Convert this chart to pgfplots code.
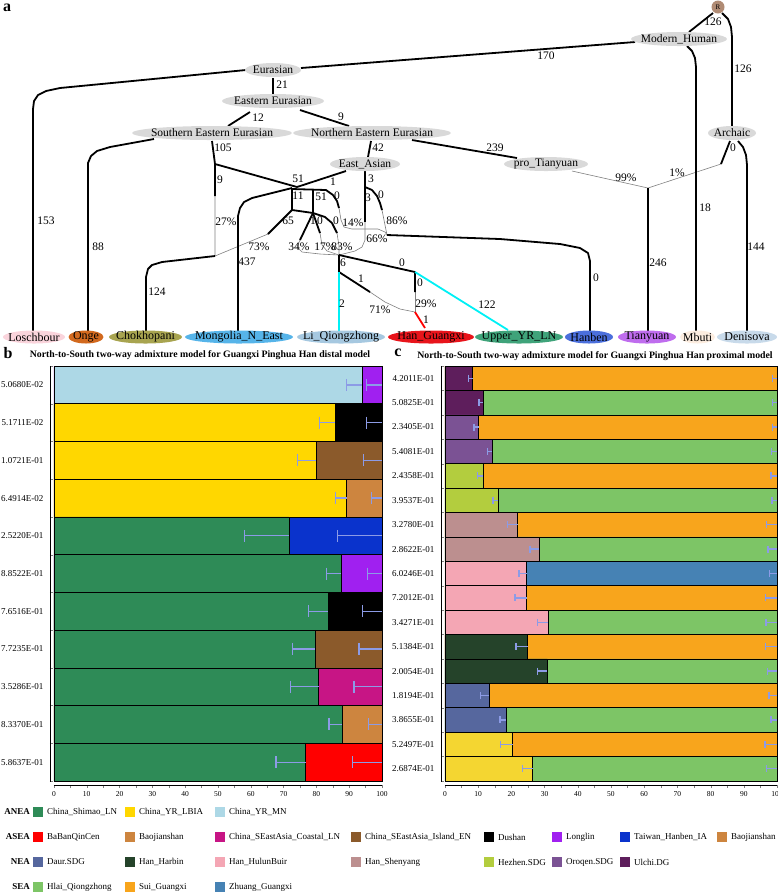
\documentclass[border=0pt]{standalone}
\usepackage{fontspec}
\setmainfont{Liberation Serif}
\usepackage{pgfplots}
\pgfplotsset{compat=1.18}
\usetikzlibrary{shapes.geometric}

\definecolor{nodegray}{HTML}{D9D9D9}
\definecolor{rootc}{HTML}{B08B74}
\definecolor{errc}{HTML}{8C9BE6}
\definecolor{cyanc}{HTML}{00F0F5}
\definecolor{cLosch}{HTML}{FAD4DC}
\definecolor{cOnge}{HTML}{D2691E}
\definecolor{cChok}{HTML}{A8A450}
\definecolor{cMong}{HTML}{56B4E9}
\definecolor{cLi}{HTML}{A6C8E0}
\definecolor{cHanG}{HTML}{E8141B}
\definecolor{cUpper}{HTML}{3FA37A}
\definecolor{cHanben}{HTML}{4B6FDC}
\definecolor{cTian}{HTML}{BF6DEE}
\definecolor{cMbuti}{HTML}{FCEDE0}
\definecolor{cDeni}{HTML}{C8DAEA}
\definecolor{cShimao}{HTML}{2E8B57}
\definecolor{cLBIA}{HTML}{FFD700}
\definecolor{cMN}{HTML}{ADD8E6}
\definecolor{cBaBan}{HTML}{FF0000}
\definecolor{cBaoj}{HTML}{CD853F}
\definecolor{cCoastal}{HTML}{C71585}
\definecolor{cIsland}{HTML}{8B5A2B}
\definecolor{cDushan}{HTML}{000000}
\definecolor{cLonglin}{HTML}{A020F0}
\definecolor{cTaiwan}{HTML}{0A33CC}
\definecolor{cDaur}{HTML}{56679E}
\definecolor{cHarbin}{HTML}{25432A}
\definecolor{cHulun}{HTML}{F4A6B4}
\definecolor{cShenyang}{HTML}{BC8F8F}
\definecolor{cHezhen}{HTML}{B3CD3E}
\definecolor{cOroqen}{HTML}{7B5294}
\definecolor{cUlchi}{HTML}{5E1E5C}
\definecolor{cHlai}{HTML}{7DC566}
\definecolor{cSui}{HTML}{F8A51C}
\definecolor{cZhuang}{HTML}{4682B4}
\definecolor{cYel}{HTML}{F4D631}

\newcommand{\tf}{\fontsize{11.5}{12}\selectfont}
\newcommand{\lf}{\fontsize{12}{13}\selectfont}
\newcommand{\E}[1]{\addplot[black, line width=1.8pt, line join=round] coordinates {#1};}
\newcommand{\C}[1]{\addplot[cyanc, line width=1.8pt] coordinates {#1};}
\newcommand{\T}[1]{\addplot[gray, line width=0.6pt] coordinates {#1};}
\newcommand{\lab}[3]{\node[font=\tf, inner sep=0pt] at (axis cs:#1,#2) {#3};}
\newcommand{\nd}[6]{\fill[#5] (axis cs:#1,#2) ellipse [x radius=#3pt, y radius=#4pt];
  \node[font=\tf, inner sep=0pt] at (axis cs:#1,#2) {#6};}
\newcommand{\lv}[5]{\fill[#5] (axis cs:#1,337) ellipse [x radius=#2pt, y radius=6.5pt];
  \node[font=\lf, inner sep=0pt, text=#4] at (axis cs:#1,337) {#3};}
\newcommand{\leg}[4]{\node[fill=#3, minimum size=10pt, inner sep=0pt, anchor=west] at (axis cs:#1,#2) {};
  \node[anchor=west, font=\fontsize{9}{10}\selectfont, inner sep=0pt, xshift=14pt] at (axis cs:#1,#2) {#4};}
\newcommand{\cat}[2]{\node[anchor=east, font=\bfseries\fontsize{9}{10}\selectfont, inner sep=0pt] at (axis cs:30,#1) {#2};}
% error bar: from x0 (cap) to x1 at row y, cap half-height #4
\newcommand{\eb}[4]{\addplot[errc, line width=1.3pt, mark=|, mark indices={1}, mark size=#4, mark options={solid, line width=1.3pt}, forget plot] coordinates {(#1,#3) (#2,#3)};}

\pgfplotsset{
  barax/.style={scale only axis, anchor=north west, y dir=reverse,
    xmin=-1.2, xmax=100, ymin=0.5,
    axis x line*=bottom, axis y line*=left,
    x axis line style={shorten <=3.9pt},
    y axis line style={shorten >=3pt},
    xtick={0,10,...,100}, minor x tick num=1,
    tick align=outside, major tick length=3pt, minor tick length=3pt,
    major y tick style={draw=none},
    minor y tick style={xshift=3pt},
    x tick label style={font=\fontsize{7.5}{8}\selectfont},
    y tick label style={font=\fontsize{9}{10}\selectfont},
    /pgf/number format/assume math mode=true,
    clip=false},
  bb/.style={xbar, bar width=1, bar shift=0pt, draw=black, line width=0.6pt, forget plot},
}

\begin{document}
\begin{tikzpicture}
\useasboundingbox (0,0) rectangle (778pt,-892pt);
% ---------------- panel a: admixture graph ----------------
\begin{axis}[at={(0pt,0pt)}, anchor=north west, scale only axis, width=778pt, height=892pt,
  xmin=0, xmax=778, ymin=0, ymax=892, y dir=reverse, hide axis, clip=false]
% thin admixture edges
\T{(215,196) (215,256) (268,234)}
\T{(721,164) (648,188) (572,171)}
\T{(339,208) (341,220) (344,227) (352,229) (378,229) (385,232) (387,235)}
\T{(382,210) (385,225) (387,235)}
\T{(365,222) (365,240) (362,247) (355,251) (339,255)}
\T{(300,240) (297,247) (302,252) (320,254) (339,255)}
\T{(320,233) (322,245) (327,251) (339,255)}
\T{(337,233) (339,246) (339,255)}
\T{(415,292) (415,312)}
\T{(370,292) (385,302) (400,309) (415,312)}
% thick edges
\E{(713,13) (689,32)}
\E{(722,13) (728,19) (731,27) (732,37) (732,126)}
\E{(635,42) (301,68)}
\E{(687,46) (692,51) (695,58) (696,67) (696,331)}
\E{(246,70) (60,88) (46,91) (38,95) (34,101) (33,109) (33,331)}
\E{(273,78) (273,94)}
\E{(250,112) (228,126)}
\E{(300,110) (349,126)}
\E{(154,139) (110,147) (97,151) (91,156) (88,163) (88,331)}
\E{(212,141) (215,164) (215,196)}
\E{(215,164) (297,187)}
\E{(346,171) (297,187)}
\E{(292,188) (252,198) (244,202) (240,208) (238,216) (238,331)}
\E{(292,189) (326,190) (333,195) (337,201) (339,208)}
\E{(292,189) (292,210) (313,213)}
\E{(313,189) (313,213)}
\E{(292,210) (268,234)}
\E{(313,213) (300,240)}
\E{(313,213) (320,233)}
\E{(313,213) (325,217) (332,223) (337,233)}
\E{(215,256) (162,262) (152,265) (148,269) (146,277) (146,331)}
\E{(365,171) (365,222)}
\E{(365,187) (372,190) (377,196) (380,203) (382,210)}
\E{(387,235) (500,239) (560,244) (580,248) (588,253) (590,261) (590,331)}
\E{(412,140) (517,158)}
\E{(371,141) (368,157)}
\E{(738,141) (743,147) (746,155) (747,165) (747,331)}
\E{(730,141) (721,164)}
\E{(648,188) (648,331)}
\E{(339,255) (415,272) (415,292)}
\E{(339,255) (339,272) (370,292)}
\C{(339,272) (339,331)}
\C{(415,272) (508,330)}
\addplot[red, line width=1.8pt] coordinates {(415,312) (425,328)};
% edge labels
\lab{546}{56}{170}
\lab{713}{22}{126}
\lab{743}{69}{126}
\lab{282}{85}{21}
\lab{258}{118}{12}
\lab{341}{117}{9}
\lab{223}{148}{105}
\lab{378}{148}{42}
\lab{495}{148}{239}
\lab{733}{148}{0}
\lab{46}{221}{153}
\lab{98}{247}{88}
\lab{157}{292}{124}
\lab{247}{262}{437}
\lab{220}{180}{9}
\lab{226}{222}{27\%}
\lab{298}{179}{51}
\lab{333}{182}{1}
\lab{298}{196}{11}
\lab{321}{197}{51}
\lab{337}{196}{0}
\lab{371}{179}{3}
\lab{368}{198}{3}
\lab{381}{195}{0}
\lab{288}{221}{65}
\lab{313}{221}{1}
\lab{320}{221}{0}
\lab{336}{221}{0}
\lab{353}{223}{14\%}
\lab{397}{221}{86\%}
\lab{259}{247}{73\%}
\lab{299}{247}{34\%}
\lab{325}{247}{17\%}
\lab{342}{247}{83\%}
\lab{377}{239}{66\%}
\lab{343}{263}{6}
\lab{402}{263}{0}
\lab{420}{283}{0}
\lab{361}{279}{1}
\lab{342}{304}{2}
\lab{380}{310}{71\%}
\lab{426}{304}{29\%}
\lab{426}{320}{1}
\lab{487}{305}{122}
\lab{596}{278}{0}
\lab{658}{263}{246}
\lab{705}{208}{18}
\lab{756}{247}{144}
\lab{626}{178}{99\%}
\lab{677}{173}{1\%}
% internal nodes
\fill[rootc] (axis cs:718,7) circle [radius=6.5pt];
\node[font=\fontsize{7}{8}\selectfont, inner sep=0pt] at (axis cs:718,7) {R};
\nd{679}{39}{48}{7}{nodegray}{Modern\_Human}
\nd{273}{70}{28}{7}{nodegray}{Eurasian}
\nd{273}{101}{51}{7}{nodegray}{Eastern Eurasian}
\nd{212}{133}{80}{7}{nodegray}{Southern Eastern Eurasian}
\nd{372}{133}{79}{7}{nodegray}{Northern Eastern Eurasian}
\nd{365}{164}{35}{7}{nodegray}{East\_Asian}
\nd{546}{164}{42}{7}{nodegray}{pro\_Tianyuan}
\nd{732}{133}{24}{7}{nodegray}{Archaic}
% leaves
\lv{34}{31}{Loschbour}{black}{cLosch}
\lv{86}{17.5}{Onge}{black}{cOnge}
\lv{145.5}{36.5}{Chokhopani}{black}{cChok}
\lv{239}{54}{Mongolia\_N\_East}{black}{cMong}
\lv{341}{44}{Li\_Qiongzhong}{black}{cLi}
\lv{431}{43}{Han\_Guangxi}{black}{cHanG}
\lv{519}{44}{Upper\_YR\_LN}{black}{cUpper}
\lv{589}{24}{Hanben}{black}{cHanben}
\lv{647}{29}{Tianyuan}{black}{cTian}
\lv{697.5}{17.5}{Mbuti}{black}{cMbuti}
\lv{747}{30}{Denisova}{black}{cDeni}
% panel letters and titles
\node[font=\bfseries\fontsize{16}{16}\selectfont, inner sep=0pt] at (axis cs:7,8) {a};
\node[font=\bfseries\fontsize{16}{16}\selectfont, inner sep=0pt] at (axis cs:8,353) {b};
\node[font=\bfseries\fontsize{16}{16}\selectfont, inner sep=0pt] at (axis cs:398,353) {c};
\node[font=\bfseries\fontsize{9.8}{10}\selectfont, inner sep=0pt] at (axis cs:200,355) {North-to-South two-way admixture model for Guangxi Pinghua Han distal model};
\node[font=\bfseries\fontsize{9.8}{10}\selectfont, inner sep=0pt] at (axis cs:595,356) {North-to-South two-way admixture model for Guangxi Pinghua Han proximal model};
% legend
\cat{812}{ANEA}
\leg{33}{812}{cShimao}{China\_Shimao\_LN}
\leg{125}{812}{cLBIA}{China\_YR\_LBIA}
\leg{215}{812}{cMN}{China\_YR\_MN}
\cat{837}{ASEA}
\leg{33}{837}{cBaBan}{BaBanQinCen}
\leg{125}{837}{cBaoj}{Baojianshan}
\leg{215}{837}{cCoastal}{China\_SEastAsia\_Coastal\_LN}
\leg{351}{837}{cIsland}{China\_SEastAsia\_Island\_EN}
\leg{484}{837}{cDushan}{Dushan}
\leg{552}{837}{cLonglin}{Longlin}
\leg{620}{837}{cTaiwan}{Taiwan\_Hanben\_IA}
\leg{717}{837}{cBaoj}{Baojianshan}
\cat{862}{NEA}
\leg{33}{862}{cDaur}{Daur.SDG}
\leg{125}{862}{cHarbin}{Han\_Harbin}
\leg{215}{862}{cHulun}{Han\_HulunBuir}
\leg{351}{862}{cShenyang}{Han\_Shenyang}
\leg{484}{862}{cHezhen}{Hezhen.SDG}
\leg{552}{862}{cOroqen}{Oroqen.SDG}
\leg{620}{862}{cUlchi}{Ulchi.DG}
\cat{887}{SEA}
\leg{33}{887}{cHlai}{Hlai\_Qiongzhong}
\leg{125}{887}{cSui}{Sui\_Guangxi}
\leg{215}{887}{cZhuang}{Zhuang\_Guangxi}
\end{axis}

% ---------------- panel b ----------------
\begin{axis}[barax, at={(50pt,-366pt)}, width=332pt, height=419pt, ymax=11.605,
  ytick={1,...,11}, minor ytick={0.5,1.5,...,11.5},
  yticklabels={5.0680E-02,5.1711E-02,1.0721E-01,6.4914E-02,2.5220E-01,8.8522E-01,7.6516E-01,7.7235E-01,3.5286E-01,8.3370E-01,5.8637E-01}]
\addplot[bb, fill=cLonglin] coordinates {(100,1) (100,6)};
\addplot[bb, fill=cDushan] coordinates {(100,2) (100,7)};
\addplot[bb, fill=cIsland] coordinates {(100,3) (100,8)};
\addplot[bb, fill=cBaoj] coordinates {(100,4) (100,10)};
\addplot[bb, fill=cTaiwan] coordinates {(100,5)};
\addplot[bb, fill=cCoastal] coordinates {(100,9)};
\addplot[bb, fill=cBaBan] coordinates {(100,11)};
\addplot[bb, fill=cMN] coordinates {(94.0,1)};
\addplot[bb, fill=cLBIA] coordinates {(85.7,2) (79.9,3) (89.2,4)};
\addplot[bb, fill=cShimao] coordinates {(71.6,5) (87.5,6) (83.6,7) (79.7,8) (80.7,9) (87.9,10) (76.7,11)};
% error bars (first component)
\eb{89.2}{94.0}{1}{6pt}
\eb{81.0}{85.7}{2}{6pt}
\eb{74.2}{79.9}{3}{6pt}
\eb{85.9}{89.2}{4}{6pt}
\eb{58.1}{71.6}{5}{6pt}
\eb{83.0}{87.5}{6}{6pt}
\eb{77.6}{83.6}{7}{6pt}
\eb{72.7}{79.7}{8}{6pt}
\eb{72.2}{80.7}{9}{6pt}
\eb{83.8}{87.9}{10}{6pt}
\eb{67.7}{76.7}{11}{6pt}
% error bars (second component)
\eb{95.2}{100}{1}{6pt}
\eb{95.3}{100}{2}{6pt}
\eb{94.3}{100}{3}{6pt}
\eb{96.7}{100}{4}{6pt}
\eb{86.5}{100}{5}{6pt}
\eb{95.5}{100}{6}{6pt}
\eb{94.0}{100}{7}{6pt}
\eb{93.0}{100}{8}{6pt}
\eb{91.5}{100}{9}{6pt}
\eb{95.9}{100}{10}{6pt}
\eb{91.0}{100}{11}{6pt}
\end{axis}

% ---------------- panel c ----------------
\begin{axis}[barax, at={(441pt,-366pt)}, width=336pt, height=419pt, ymax=17.665,
  ytick={1,...,17}, minor ytick={0.5,1.5,...,17.5},
  yticklabels={4.2011E-01,5.0825E-01,2.3405E-01,5.4081E-01,2.4358E-01,3.9537E-01,3.2780E-01,2.8622E-01,6.0246E-01,7.2012E-01,3.4271E-01,5.1384E-01,2.0054E-01,1.8194E-01,3.8655E-01,5.2497E-01,2.6874E-01}]
\addplot[bb, fill=cSui] coordinates {(100,1) (100,3) (100,5) (100,7) (100,10) (100,12) (100,14) (100,16)};
\addplot[bb, fill=cHlai] coordinates {(100,2) (100,4) (100,6) (100,8) (100,11) (100,13) (100,15) (100,17)};
\addplot[bb, fill=cZhuang] coordinates {(100,9)};
\addplot[bb, fill=cUlchi] coordinates {(8.3,1) (11.5,2)};
\addplot[bb, fill=cOroqen] coordinates {(10.1,3) (14.3,4)};
\addplot[bb, fill=cHezhen] coordinates {(11.5,5) (16.0,6)};
\addplot[bb, fill=cShenyang] coordinates {(21.9,7) (28.3,8)};
\addplot[bb, fill=cHulun] coordinates {(24.6,9) (24.6,10) (31.1,11)};
\addplot[bb, fill=cHarbin] coordinates {(24.9,12) (30.8,13)};
\addplot[bb, fill=cDaur] coordinates {(13.2,14) (18.4,15)};
\addplot[bb, fill=cYel] coordinates {(20.4,16) (26.4,17)};
% error bars (first component)
\eb{7.0}{8.3}{1}{3.5pt}
\eb{10.2}{11.5}{2}{3.5pt}
\eb{8.7}{10.1}{3}{3.5pt}
\eb{12.7}{14.3}{4}{3.5pt}
\eb{9.7}{11.5}{5}{3.5pt}
\eb{14.5}{16.0}{6}{3.5pt}
\eb{18.8}{21.9}{7}{3.5pt}
\eb{25.6}{28.3}{8}{3.5pt}
\eb{22.3}{24.6}{9}{3.5pt}
\eb{21.1}{24.6}{10}{3.5pt}
\eb{27.8}{31.1}{11}{3.5pt}
\eb{21.4}{24.9}{12}{3.5pt}
\eb{27.9}{30.8}{13}{3.5pt}
\eb{10.8}{13.2}{14}{3.5pt}
\eb{16.6}{18.4}{15}{3.5pt}
\eb{16.8}{20.4}{16}{3.5pt}
\eb{23.3}{26.4}{17}{3.5pt}
% error bars (second component)
\eb{98.7}{100}{1}{3.5pt}
\eb{98.7}{100}{2}{3.5pt}
\eb{98.6}{100}{3}{3.5pt}
\eb{98.4}{100}{4}{3.5pt}
\eb{98.2}{100}{5}{3.5pt}
\eb{98.5}{100}{6}{3.5pt}
\eb{96.9}{100}{7}{3.5pt}
\eb{97.3}{100}{8}{3.5pt}
\eb{97.7}{100}{9}{3.5pt}
\eb{96.5}{100}{10}{3.5pt}
\eb{96.7}{100}{11}{3.5pt}
\eb{96.5}{100}{12}{3.5pt}
\eb{97.1}{100}{13}{3.5pt}
\eb{97.6}{100}{14}{3.5pt}
\eb{98.2}{100}{15}{3.5pt}
\eb{96.4}{100}{16}{3.5pt}
\eb{96.9}{100}{17}{3.5pt}
\end{axis}
\end{tikzpicture}
\end{document}
